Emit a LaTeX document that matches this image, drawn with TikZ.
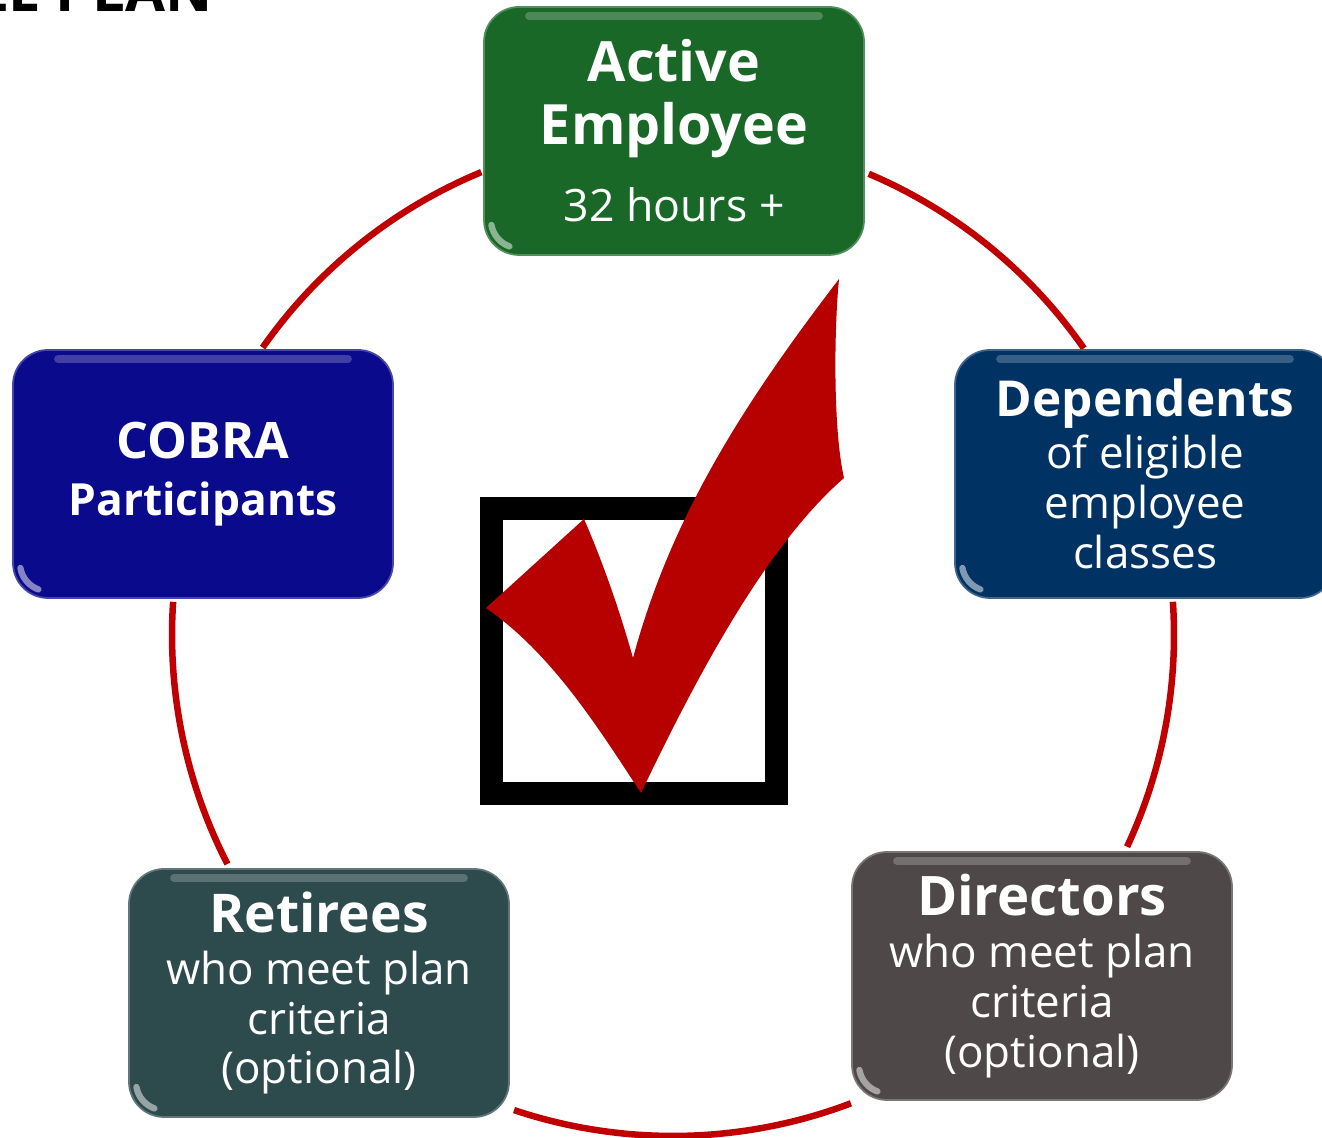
\documentclass[tikz,border=0pt]{standalone}
\usepackage{fontspec}
\setmainfont{Open Sans}
\usetikzlibrary{calc}

\definecolor{ringred}{RGB}{192,0,0}
\definecolor{tickred}{RGB}{183,0,0}
\definecolor{activegreen}{RGB}{26,104,40}
\definecolor{cobrablue}{RGB}{10,10,140}
\definecolor{depblue}{RGB}{0,50,100}
\definecolor{dirgrey}{RGB}{78,72,72}
\definecolor{retteal}{RGB}{45,74,77}

\newcommand{\cardhead}[2][15.5pt]{{\fontsize{#1}{#1}\selectfont\bfseries #2}}

\tikzset{card/.style={rounded corners=0.35cm, minimum width=3.8cm, minimum height=2.48cm, inner sep=0pt,
  align=center, text=white, fill=#1, draw=#1!75!white, line width=0.5pt,
  font=\fontsize{12.5pt}{14.2pt}\selectfont,
  path picture={
    \draw[white, opacity=.22, line width=2.2pt, line cap=round]
      ([xshift=0.45cm,yshift=-0.09cm]path picture bounding box.north west) --
      ([xshift=-0.45cm,yshift=-0.09cm]path picture bounding box.north east);
    \draw[white, opacity=.5, line width=1.8pt, line cap=round]
      ([xshift=0.074cm,yshift=0.30cm]path picture bounding box.south west)
      arc[start angle=190, end angle=250, radius=0.28cm];
  }}}
\tikzset{ring/.style={ringred, line width=0.065cm}}
\tikzset{checkbox/.style={draw=black, line width=0.23cm, minimum size=2.85cm, inner sep=0pt}}
\tikzset{tick/.style={fill=tickred}}

\begin{document}
\begin{tikzpicture}
\useasboundingbox (0,0) rectangle (13.22,11.38);
% heading, mostly above the page
\node[anchor=base east, inner sep=0pt, font=\fontsize{16.5pt}{18pt}\selectfont\bfseries] (title) at (2.13,11.26) {LE PLAN};
% red ring between the cards
\coordinate (ring) at (6.73,5.03);
\draw[ring] (ring) ++(112.5:5.01) arc[start angle=112.5, end angle=145, radius=5.01];
\draw[ring] (ring) ++(176.2:5.01) arc[start angle=176.2, end angle=207.2, radius=5.01];
\draw[ring] (ring) ++(251.5:5.01) arc[start angle=251.5, end angle=290.8, radius=5.01];
\draw[ring] (ring) ++(335:5.01) arc[start angle=335, end angle=363.8, radius=5.01];
\draw[ring] (ring) ++(34.9:5.01) arc[start angle=34.9, end angle=67, radius=5.01];
% box and tick in the middle
\node[checkbox] (box) at (6.34,4.865) {};
\fill[tick] (4.86,5.30) -- (5.84,6.19)
  .. controls (6.04,5.73) and (6.20,5.26) .. (6.33,4.80)
  .. controls (6.72,6.25) and (7.48,7.40) .. (8.39,8.59)
  .. controls (8.34,8.08) and (8.33,7.08) .. (8.44,6.60)
  .. controls (7.61,5.88) and (6.885,4.44) .. (6.41,3.45)
  .. controls (5.97,4.12) and (5.52,4.84) .. cycle;
% the five groups
\node[card=activegreen, font=\fontsize{12.7pt}{17.9pt}\selectfont] (act) at (6.74,10.07)
  {\cardhead[15.8pt]{Active}\\\cardhead[15.8pt]{Employee}\\[4pt]32 hours +};
\node[card=cobrablue, font=\fontsize{14.3pt}{16.2pt}\selectfont\bfseries] (cobra) at (2.03,6.64)
  {COBRA\\{\fontsize{12.6pt}{16.2pt}\selectfont Participants}};
\node[card=depblue] (dep) at (11.45,6.64)
  {\cardhead[14.1pt]{Dependents}\\[0.6pt]of eligible\\employee\\classes};
\node[card=dirgrey] (dir) at (10.42,1.62)
  {\cardhead{Directors}\\[0.6pt]who meet plan\\criteria\\(optional)};
\node[card=retteal] (ret) at (3.19,1.45)
  {\cardhead[15.2pt]{Retirees}\\[0.6pt]who meet plan\\criteria\\(optional)};
\end{tikzpicture}
\end{document}
